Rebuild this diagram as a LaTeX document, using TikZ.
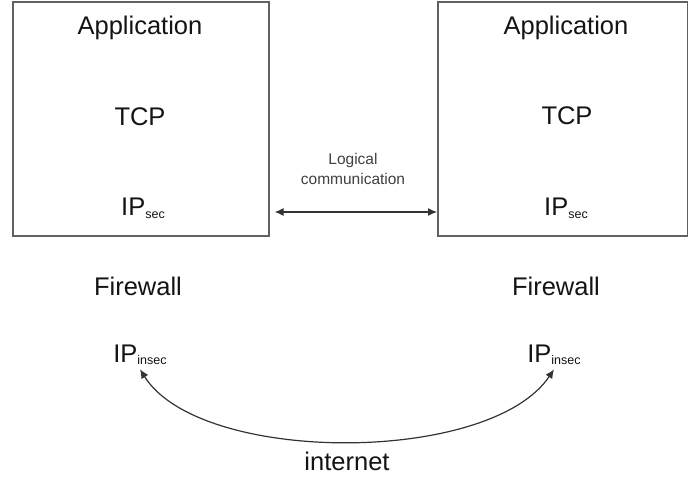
\documentclass[tikz,border=0pt]{standalone}
\usepackage{fontspec}
\setmainfont{Liberation Sans}
\usetikzlibrary{arrows.meta}
\newcommand\subtxt[1]{\raisebox{-2pt}{\fontsize{12.5}{12.5}\selectfont #1}}
\begin{document}
\begin{tikzpicture}[x=1pt,y=-1pt,
  lbl/.style={font=\fontsize{25.5}{28}\selectfont, text=black!92, inner sep=0pt, anchor=base},
  small/.style={font=\fontsize{15.5}{18}\selectfont, text=black!75, inner sep=0pt, anchor=base},
  layer/.style={draw=black!62, line width=1.6pt, anchor=north west},
  conn/.style={draw=black!80, line width=1.2pt, {Latex[length=9pt,width=8pt]}-{Latex[length=9pt,width=8pt]}}]
\useasboundingbox[fill=white] (0,0) rectangle (688,481);
\node[layer, minimum width=256pt, minimum height=234pt] (lbox) at (12,1) {};
\node[layer, minimum width=250pt, minimum height=234pt] (rbox) at (437,1) {};
% left stack
\node[lbl] (lapp) at (140,35) {Application};
\node[lbl] (ltcp) at (140,126) {TCP};
\node[lbl] (lip) at (143,216) {IP\subtxt{sec}};
\node[lbl] (lfw) at (138,295) {Firewall};
\node[lbl, inner sep=5pt] (lipi) at (140,362) {IP\subtxt{insec}};
% right stack
\node[lbl] (rapp) at (566,35) {Application};
\node[lbl] (rtcp) at (567,125) {TCP};
\node[lbl] (rip) at (566,216) {IP\subtxt{sec}};
\node[lbl] (rfw) at (556,295) {Firewall};
\node[lbl, inner sep=5pt] (ripi) at (554,362) {IP\subtxt{insec}};
% logical communication
\node[small] (log1) at (353,165) {Logical};
\node[small] (log2) at (353,185) {communication};
\coordinate (la) at (0,212);
\draw[conn] ([xshift=5pt]lbox.east |- la) -- (rbox.west |- la);
% internet
\draw[conn] (lipi.south) .. controls (200,465) and (490,465) .. (ripi.south);
\node[lbl] (inet) at (347,470) {internet};
\end{tikzpicture}
\end{document}
